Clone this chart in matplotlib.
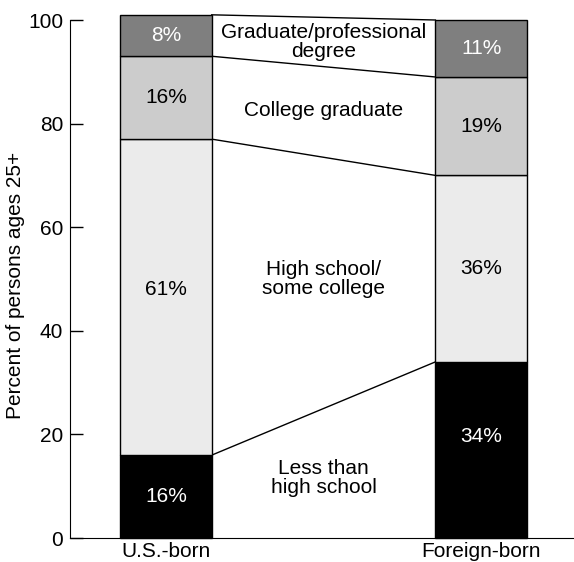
import matplotlib
matplotlib.use("Agg")
import matplotlib.pyplot as plt
import numpy as np

plt.rcParams['font.family'] = ['Liberation Sans', 'DejaVu Sans']

groups = ["U.S.-born", "Foreign-born"]
levels = ["Less than\nhigh school", "High school/\nsome college", "College graduate", "Graduate/professional\ndegree"]
us_born = [16, 61, 16, 8]
foreign_born = [34, 36, 19, 11]
colors = ["#000000", "#ebebeb", "#cccccc", "#7f7f7f"]
text_colors = ["white", "black", "black", "white"]
label_y = [11.6, 50, 82.6, 95.8]
yticks = [0, 20, 40, 60, 80, 100]

# small vertical nudges (in data units) of value labels, as in the original layout
nudges = [[0, 1.4, 0, 0], [2.6, 0, 0, 0]]

FS = 15

fig = plt.figure(figsize=(5.74, 5.62), dpi=100)
ax = fig.add_axes([70/574, 1-538/562, 1-70/574, (538-20)/562])

width = 0.29
xs = [0, 1]
data = [us_born, foreign_born]
tops = []
for x, vals, nd in zip(xs, data, nudges):
    bottom = 0
    cum = []
    for v, c, tc, n in zip(vals, colors, text_colors, nd):
        ax.bar(x, v, width=width, bottom=bottom, color=c, edgecolor="black",
               linewidth=1.0, clip_on=False, zorder=3)
        ax.text(x, bottom + v/2 + n, f"{v}%", ha="center", va="center",
                color=tc, fontsize=FS, zorder=4)
        bottom += v
        cum.append(bottom)
    tops.append(cum)

for a, b in zip(tops[0], tops[1]):
    ax.plot([xs[0] + width/2, xs[1] - width/2], [a, b], color="black",
            linewidth=1.0, clip_on=False, zorder=2)

for lab, y in zip(levels, label_y):
    ax.text(0.5, y, lab, ha="center", va="center", fontsize=FS, linespacing=1.0)

ax.set_xlim(-0.305, 1.295)
ax.set_ylim(0, 100)
ax.set_yticks(yticks)
ax.set_xticks(xs)
ax.set_xticklabels(groups, fontsize=FS)
ax.tick_params(axis="y", direction="in", length=9, width=1, labelsize=FS, pad=5)
ax.tick_params(axis="x", length=0, pad=3)
ax.spines["top"].set_visible(False)
ax.spines["right"].set_visible(False)
ax.set_ylabel("Percent of persons ages 25+", fontsize=15)
ax.yaxis.set_label_coords(-0.089, 0.488)

fig.savefig("out.png", dpi=100)
